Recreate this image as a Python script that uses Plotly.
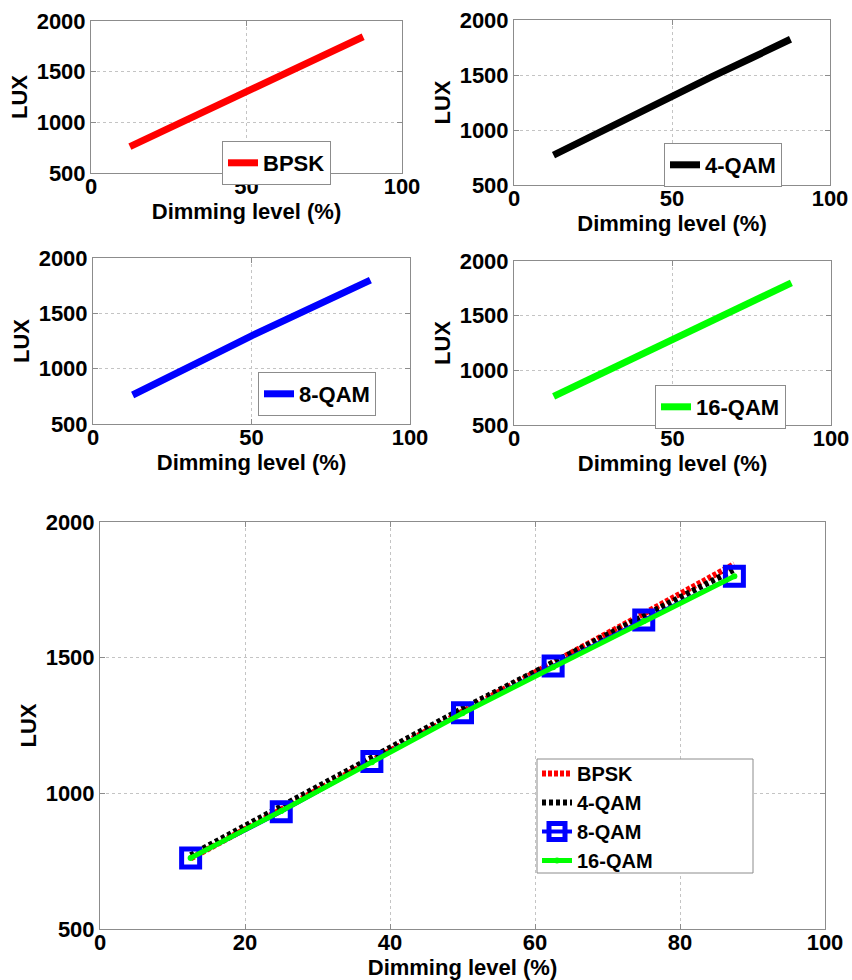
import plotly.graph_objects as go

# ---- data ----
dimming = [12.5, 25, 37.5, 50, 62.5, 75, 87.5]
lux_bpsk = [760, 942, 1122, 1305, 1482, 1662, 1845]
lux_4qam = [772, 952, 1135, 1312, 1482, 1652, 1825]
lux_8qam = [762, 932, 1117, 1297, 1469, 1639, 1800]
lux_16qam = [762, 935, 1115, 1295, 1465, 1635, 1800]
series_names = ["BPSK", "4-QAM", "8-QAM", "16-QAM"]
x_ticks_small = [0, 50, 100]
x_ticks_big = [0, 20, 40, 60, 80, 100]
y_ticks = [500, 1000, 1500, 2000]

W, H = 852, 980
FONT = "Liberation Sans, Arial, sans-serif"


def xd(l, r):
    return [l / W, r / W]


def yd(t, b):
    return [1 - b / H, 1 - t / H]


fig = go.Figure()

small_colors = ["#ff0000", "#000000", "#0000ff", "#00ff00"]
small_data = [lux_bpsk, lux_4qam, lux_8qam, lux_16qam]
for i in range(4):
    ax = "" if i == 0 else str(i + 1)
    fig.add_trace(go.Scatter(
        x=dimming, y=small_data[i], mode="lines", name=series_names[i],
        line=dict(color=small_colors[i], width=7), showlegend=True,
        xaxis="x" + ax, yaxis="y" + ax,
        legend="legend" if i == 0 else "legend" + str(i + 1),
    ))

# bottom combined
fig.add_trace(go.Scatter(
    x=dimming, y=lux_bpsk, mode="lines", name="BPSK", showlegend=True,
    line=dict(color="#ff0000", width=6, dash="4px,2px"),
    xaxis="x5", yaxis="y5", legend="legend5"))
fig.add_trace(go.Scatter(
    x=dimming, y=lux_4qam, mode="lines", name="4-QAM", showlegend=True,
    line=dict(color="#000000", width=6, dash="4px,3px"),
    xaxis="x5", yaxis="y5", legend="legend5"))
fig.add_trace(go.Scatter(
    x=dimming, y=lux_8qam, mode="lines+markers", name="8-QAM", showlegend=True,
    line=dict(color="#0000ff", width=4),
    marker=dict(symbol="square-open", size=18, color="#0000ff",
                line=dict(color="#0000ff", width=5)),
    xaxis="x5", yaxis="y5", legend="legend5"))
fig.add_trace(go.Scatter(
    x=dimming, y=lux_16qam, mode="lines+markers", name="16-QAM", showlegend=True,
    line=dict(color="#00ff00", width=5),
    marker=dict(symbol="circle", size=6, color="#00ff00"),
    xaxis="x5", yaxis="y5", legend="legend5"))

tickfont = dict(family=FONT, size=22, color="black", weight="bold")
titlefont = dict(family=FONT, size=22, color="black", weight="bold")


def axis_common():
    return dict(showline=True, linecolor="#8c8c8c", linewidth=1, mirror="ticks",
                ticks="inside", ticklen=5, tickcolor="#8c8c8c",
                showgrid=True, gridcolor="#c4c4c4", griddash="dot", gridwidth=1,
                zeroline=False, tickfont=tickfont, fixedrange=True,
                automargin=False)


panels = [
    ("xaxis", "yaxis", "x", "y", xd(91, 402), yd(21, 173), x_ticks_small),
    ("xaxis2", "yaxis2", "x2", "y2", xd(514, 830), yd(20, 185), x_ticks_small),
    ("xaxis3", "yaxis3", "x3", "y3", xd(93, 410), yd(258, 424), x_ticks_small),
    ("xaxis4", "yaxis4", "x4", "y4", xd(514, 831), yd(261, 425), x_ticks_small),
    ("xaxis5", "yaxis5", "x5", "y5", xd(100, 825), yd(522, 929), x_ticks_big),
]

layout = dict(
    width=W, height=H, margin=dict(l=0, r=0, t=0, b=0, autoexpand=False),
    paper_bgcolor="white", plot_bgcolor="white", showlegend=True,
    font=dict(family=FONT, size=22, color="black", weight="bold"),
)

for xa, ya, xn, yn, xdom, ydom, xt in panels:
    xcfg = axis_common()
    xcfg.update(domain=xdom, anchor=yn, range=[0, 100], tickvals=xt,
                ticklabelstandoff=-6,
                title=dict(text="Dimming level (%)", font=titlefont, standoff=0))
    ycfg = axis_common()
    ycfg.update(domain=ydom, anchor=xn, range=[500, 2000], tickvals=y_ticks,
                title=dict(text="LUX", font=titlefont, standoff=2))
    layout[xa] = xcfg
    layout[ya] = ycfg


def legend_at(left, top, size=22, **kw):
    d = dict(x=left / W, y=1 - top / H, xref="paper", yref="paper",
             xanchor="left", yanchor="top", bgcolor="white",
             bordercolor="#8c8c8c", borderwidth=1,
             font=dict(family=FONT, size=size, color="black", weight="bold"),
             itemwidth=30, tracegroupgap=0)
    d.update(kw)
    return d


layout["legend"] = legend_at(222, 141)
layout["legend2"] = legend_at(664, 143)
layout["legend3"] = legend_at(258, 372)
layout["legend4"] = legend_at(655, 385)
layout["legend5"] = legend_at(537, 754, size=20, bgcolor="rgba(0,0,0,0)",
                              borderwidth=0)

# frame of the bottom legend (wider than its entries, as in the reference)
layout["shapes"] = [dict(type="rect", xref="paper", yref="paper",
                         x0=537 / W, x1=753 / W, y0=1 - 873 / H, y1=1 - 759 / H,
                         line=dict(color="#8c8c8c", width=1),
                         fillcolor="white", layer="above")]

fig.update_layout(**layout)
fig.write_html("out.html", config={"displayModeBar": False},
               post_script="document.body.style.margin='0';"
                           "document.body.style.overflow='hidden';")
